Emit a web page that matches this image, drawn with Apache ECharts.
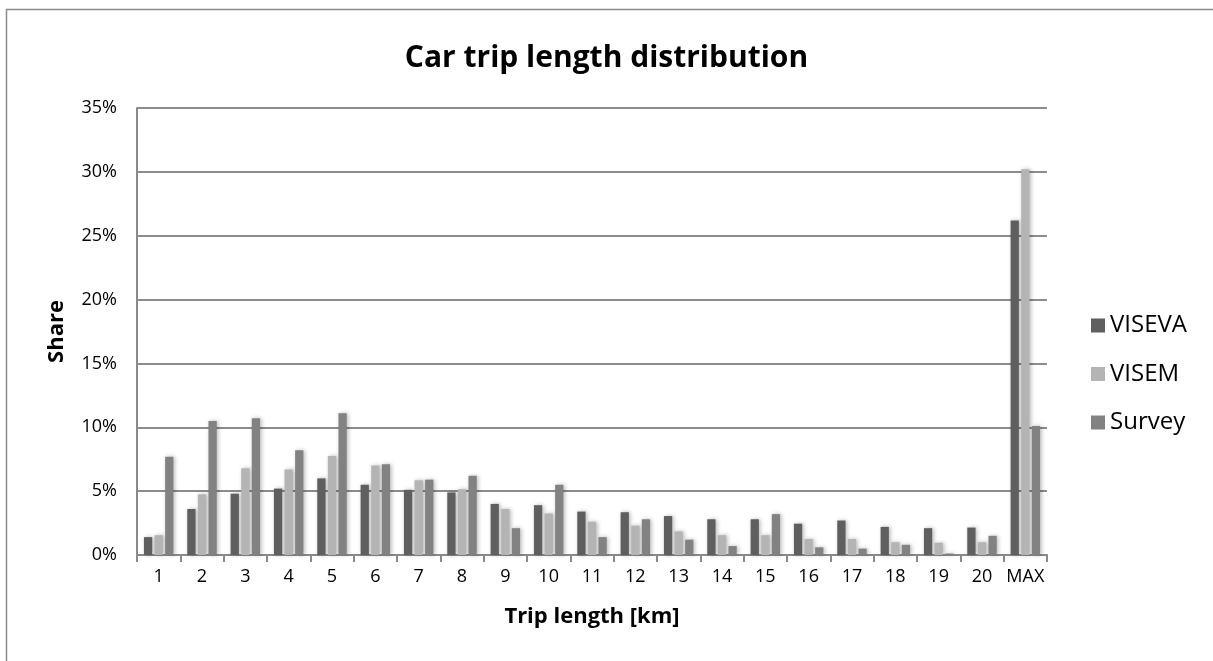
<!DOCTYPE html>
<html>
<head>
<meta charset="utf-8">
<script src="https://cdn.jsdelivr.net/npm/echarts@6/dist/echarts.min.js"></script>
<style>
  html, body { margin: 0; padding: 0; background: #fff; }
  #chart { width: 1213px; height: 661px; }
</style>
</head>
<body>
<div id="chart"></div>
<script>
// Trip length bins (km) and share of car trips per source, in percent
const categories = ['1','2','3','4','5','6','7','8','9','10','11','12','13','14','15','16','17','18','19','20','MAX'];
const viseva = [1.4, 3.6, 4.8, 5.2, 6.0, 5.5, 5.1, 4.9, 4.0, 3.9, 3.4, 3.35, 3.05, 2.8, 2.8, 2.45, 2.7, 2.2, 2.1, 2.15, 26.2];
const visem  = [1.55, 4.75, 6.8, 6.7, 7.75, 7.0, 5.85, 5.15, 3.6, 3.25, 2.6, 2.3, 1.85, 1.55, 1.55, 1.25, 1.25, 1.0, 0.95, 1.0, 30.2];
const survey = [7.7, 10.5, 10.7, 8.2, 11.1, 7.1, 5.9, 6.2, 2.1, 5.5, 1.4, 2.8, 1.2, 0.7, 3.2, 0.6, 0.5, 0.8, 0.12, 1.5, 10.1];
const yTicks = [0, 5, 10, 15, 20, 25, 30, 35];

const font = '"Open Sans", Lato, sans-serif';
const barShadow = { shadowBlur: 4, shadowColor: 'rgba(0,0,0,0.28)', shadowOffsetX: 1.5, shadowOffsetY: 0 };

const chart = echarts.init(document.getElementById('chart'), null, { renderer: 'canvas' });
chart.setOption({
  backgroundColor: '#ffffff',
  animation: false,
  textStyle: { fontFamily: font },
  graphic: [{
    type: 'rect',
    shape: { x: 6.5, y: 9.5, width: 1240, height: 700 },
    style: { fill: 'none', stroke: '#8c8c8c', lineWidth: 1.5 },
    silent: true
  }],
  title: {
    text: 'Car trip length distribution',
    left: 'center',
    top: 38,
    textStyle: { fontFamily: font, fontSize: 30, fontWeight: 'bold', color: '#000' }
  },
  legend: {
    orient: 'vertical',
    left: 1086,
    top: 308,
    itemWidth: 14,
    itemHeight: 14,
    itemGap: 23.5,
    icon: 'rect',
    textStyle: { fontFamily: font, fontSize: 24, lineHeight: 25, color: '#000' },
    data: ['VISEVA', 'VISEM', 'Survey']
  },
  grid: { left: 137, right: 166, top: 108, bottom: 106, containLabel: false },
  xAxis: {
    type: 'category',
    data: categories,
    name: 'Trip length [km]',
    nameLocation: 'middle',
    nameGap: 51,
    nameTextStyle: { fontFamily: font, fontSize: 22, fontWeight: 'bold', color: '#000' },
    axisLine: { lineStyle: { color: '#8a8a8a', width: 2 } },
    axisTick: { show: true, alignWithLabel: false, length: 7, lineStyle: { color: '#8a8a8a', width: 2 } },
    axisLabel: { fontFamily: font, fontSize: 18, color: '#000', margin: 13, interval: 0 }
  },
  yAxis: {
    type: 'value',
    min: 0,
    max: 35,
    interval: 5,
    name: 'Share',
    nameLocation: 'middle',
    nameGap: 69,
    nameRotate: 90,
    nameTextStyle: { fontFamily: font, fontSize: 22, fontWeight: 'bold', color: '#000' },
    axisLine: { show: true, lineStyle: { color: '#8a8a8a', width: 2 } },
    axisTick: { show: false },
    axisLabel: {
      fontFamily: font, fontSize: 18, color: '#000', margin: 20,
      formatter: v => yTicks.includes(v) ? v + '%' : ''
    },
    splitLine: { show: true, lineStyle: { color: '#8c8c8c', width: 2 } }
  },
  series: [
    { name: 'VISEVA', type: 'bar', data: viseva, barGap: '28%', barCategoryGap: '32%',
      itemStyle: Object.assign({ color: '#5f5f5f' }, barShadow) },
    { name: 'VISEM', type: 'bar', data: visem,
      itemStyle: Object.assign({ color: '#b4b4b4' }, barShadow) },
    { name: 'Survey', type: 'bar', data: survey,
      itemStyle: Object.assign({ color: '#828282' }, barShadow) }
  ]
});
</script>
</body>
</html>
